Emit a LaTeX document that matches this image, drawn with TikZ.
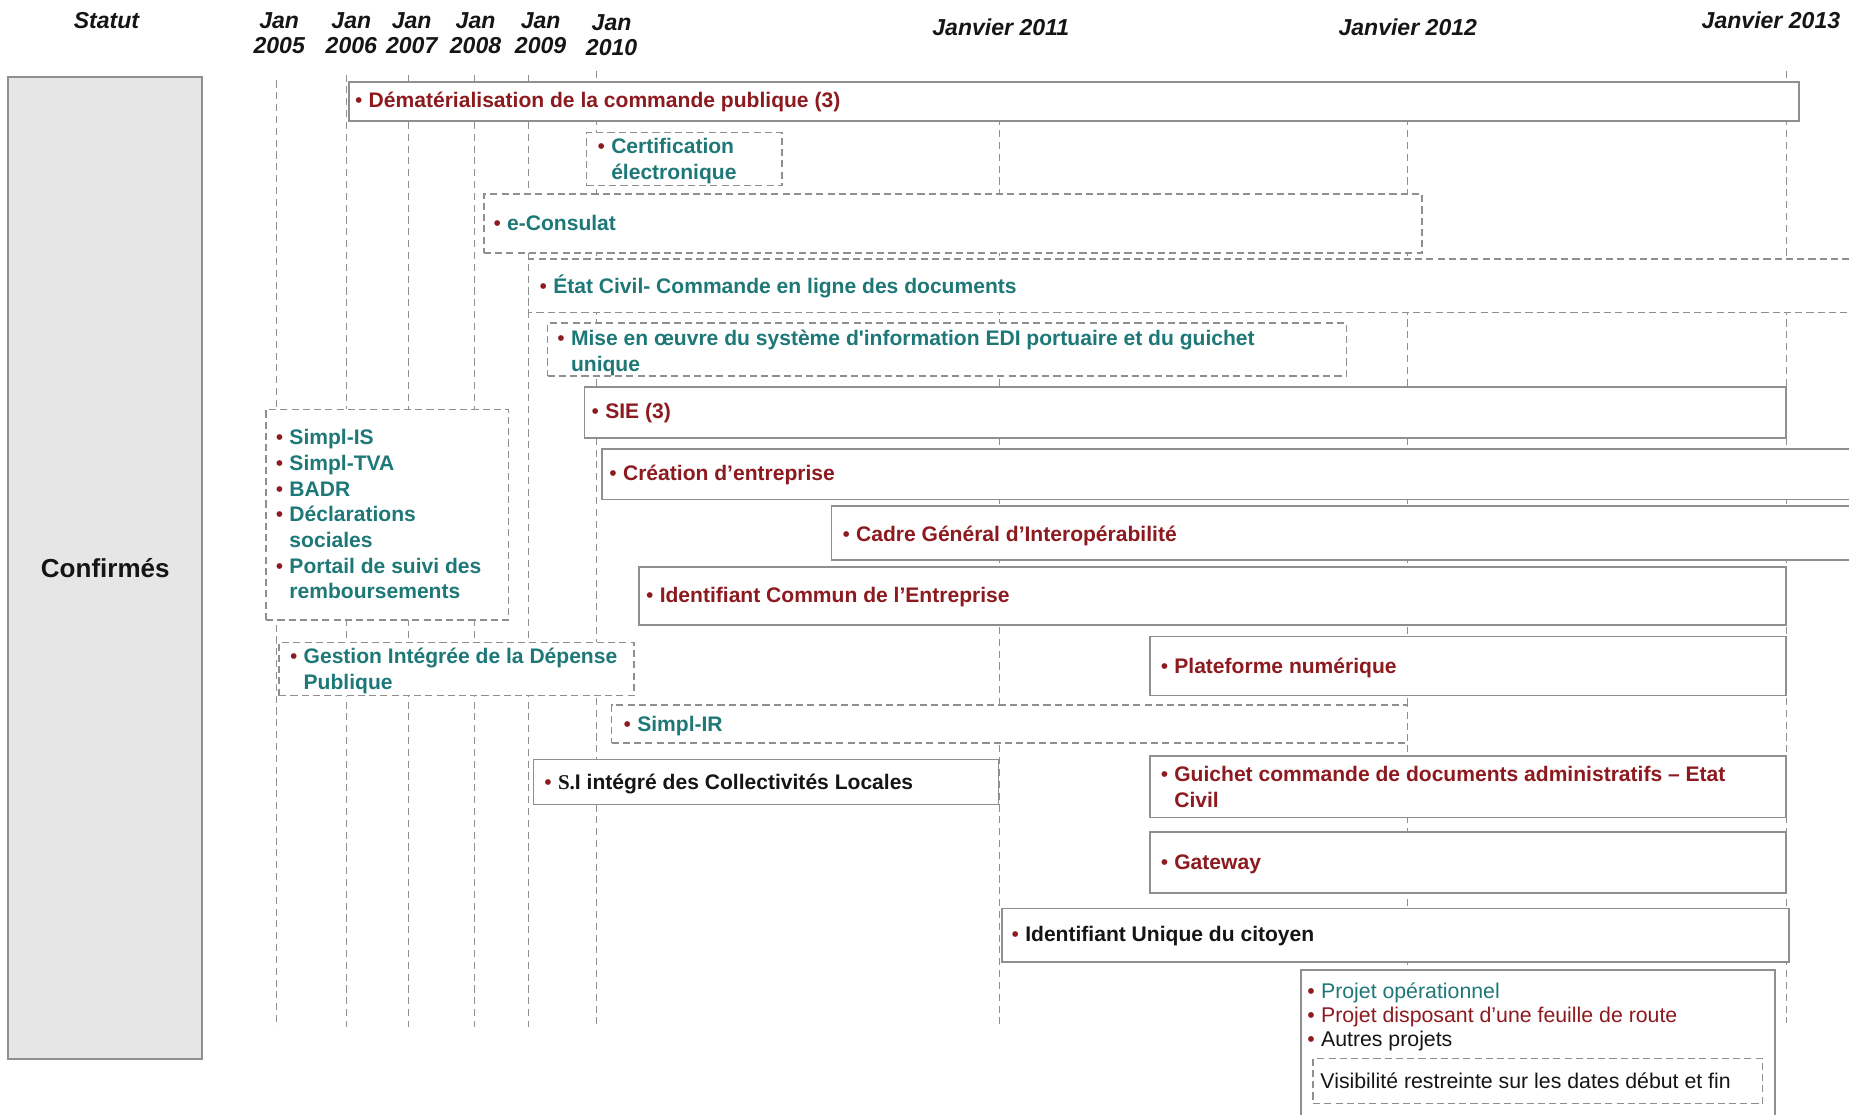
\documentclass[tikz,border=0pt]{standalone}
\usepackage{fontspec}
\setmainfont{Liberation Sans}
\newfontfamily\serifbf{Liberation Serif}
\usetikzlibrary{fit}
\definecolor{tealc}{HTML}{1E7878}
\definecolor{bred}{HTML}{8C1A1F}
\definecolor{ink}{HTML}{151515}
\definecolor{lgray}{HTML}{8F8F8F}
\definecolor{boxfill}{HTML}{E6E6E6}
\newcommand{\bu}{\makebox[11.5pt][l]{\textcolor{bred}{\mdseries •}}}
\newcommand{\ind}{\hspace*{11.5pt}}
\newcommand{\lst}[1]{\begin{tabular}[t]{@{}l@{}}#1\end{tabular}}
\newcommand{\twol}[2]{\begin{tabular}[t]{@{}c@{}}#1\\#2\end{tabular}}
\tikzset{
  gridline/.style={draw=lgray, line width=1pt, dash pattern=on 6pt off 4pt},
  sline/.style={draw=lgray, line width=1.5pt},
  dline/.style={draw=lgray, line width=1.2pt, dash pattern=on 6pt off 3.5pt},
  sbox/.style={sline, fill=white, rectangle, inner sep=0pt},
  dbox/.style={dline, fill=white, rectangle, inner sep=0pt},
  obox/.style={fill=white, rectangle, inner sep=0pt},
  lbl/.style={anchor=base west, inner sep=0pt, font=\bfseries\fontsize{17.8}{21.7}\selectfont},
  leglbl/.style={anchor=base west, inner sep=0pt, font=\fontsize{18}{20.5}\selectfont},
  hdr/.style={anchor=base, inner sep=0pt, text=ink, font=\bfseries\itshape\fontsize{19.5}{21}\selectfont},
}
\begin{document}
\begin{tikzpicture}[x=1pt, y=-1pt]
\useasboundingbox (0,0) rectangle (1563,942);

% header
\node[hdr] (hstat) at (90,24) {Statut};
\node[hdr] (h05) at (236,24) {\twol{Jan}{2005}};
\node[hdr] (h06) at (297,24) {\twol{Jan}{2006}};
\node[hdr] (h07) at (348,24) {\twol{Jan}{2007}};
\node[hdr] (h08) at (402,24) {\twol{Jan}{2008}};
\node[hdr] (h09) at (457,24) {\twol{Jan}{2009}};
\node[hdr] (h10) at (517,26) {\twol{Jan}{2010}};
\node[hdr] (h11) at (846,30) {Janvier 2011};
\node[hdr] (h12) at (1190,30) {Janvier 2012};
\node[hdr] (h13) at (1497,24) {Janvier 2013};

% grid lines
\coordinate (g05a) at (234,68);  \coordinate (g05b) at (234,868);
\coordinate (g06a) at (293,63);  \coordinate (g06b) at (293,868);
\coordinate (g07a) at (345.4,63);  \coordinate (g07b) at (345.4,868);
\coordinate (g08a) at (401,63);  \coordinate (g08b) at (401,868);
\coordinate (g09a) at (447,63);  \coordinate (g09b) at (447,868);
\coordinate (g10a) at (504,60);  \coordinate (g10b) at (504,868);
\coordinate (g11a) at (845,80);  \coordinate (g11b) at (845,868);
\coordinate (g12a) at (1190,80); \coordinate (g12b) at (1190,868);
\coordinate (g13a) at (1510,60); \coordinate (g13b) at (1510,865);
\foreach \g in {05,06,07,08,09,10,11,12,13}
  \draw[gridline] (g\g a) -- (g\g b);

% status column
\node[sline, fill=boxfill, rectangle, inner sep=0pt, fit={(7,65)(171,895)}] (conf) {};
\node[inner sep=0pt, text=ink, font=\bfseries\fontsize{22}{26}\selectfont] (tconf) at (conf.center) {Confirmés};

% boxes
\node[sbox, fit={(295,69)(1521,102)}] (demat) {};
\node[dbox, fit={(496,112)(661,157)}] (cert) {};
\node[dbox, fit={(409,164)(1202,214)}] (econs) {};
\node[obox, fit={(447,219)(1563,264)}] (etat) {};
\draw[dline] (etat.north east) -- (etat.north west) -- (etat.south west) -- (etat.south east);
\node[dbox, fit={(463,273)(1138,318)}] (edi) {};
\node[sbox, fit={(494,327)(1510,370)}] (sie) {};
\node[obox, fit={(509,380)(1563,422)}] (crea) {};
\draw[sline] (crea.north east) -- (crea.north west) -- (crea.south west) -- (crea.south east);
\node[obox, fit={(703,428)(1563,473)}] (cadre) {};
\draw[sline] (cadre.north east) -- (cadre.north west) -- (cadre.south west) -- (cadre.south east);
\node[sbox, fit={(540,479)(1510,528)}] (icent) {};
\node[dbox, fit={(225,346)(430,524)}] (simpl) {};
\node[dbox, fit={(236,543)(536,588)}] (gidp) {};
\node[sbox, fit={(972,538)(1510,588)}] (plat) {};
\node[dbox, fit={(517,596)(1190,628)}] (sir) {};
\node[sbox, fit={(451,642)(844,680)}] (sicl) {};
\node[sbox, fit={(972,639)(1510,691)}] (guich) {};
\node[sbox, fit={(972,703)(1510,755)}] (gate) {};
\node[sbox, fit={(847,768)(1512,813)}] (iuc) {};
\node[obox, fit={(1100,820)(1500,942)}] (leg) {};
\draw[sline] (leg.south west) -- (leg.north west) -- (leg.north east) -- (leg.south east);
\node[dbox, fit={(1110,895)(1490,933)}] (vis) {};

% labels
\node[lbl, text=bred] (tdemat) at (300,91) {\bu Dématérialisation de la commande publique (3)};
\node[lbl, text=tealc] (tcert) at (505,130) {\lst{\bu Certification\\\ind électronique}};
\node[lbl, text=tealc] (tecons) at (417,195) {\bu e-Consulat};
\node[lbl, text=tealc] (tetat) at (456,248) {\bu État Civil- Commande en ligne des documents};
\node[lbl, text=tealc] (tedi) at (471,292) {\lst{\bu Mise en œuvre du système d\textquotesingle information EDI portuaire et du guichet\\\ind unique}};
\node[lbl, text=bred] (tsie) at (500,354) {\bu SIE (3)};
\node[lbl, text=bred] (tcrea) at (515,406) {\bu Création d’entreprise};
\node[lbl, text=bred] (tcadre) at (712,458) {\bu Cadre Général d’Interopérabilité};
\node[lbl, text=bred] (ticent) at (546,509) {\bu Identifiant Commun de l’Entreprise};
\node[lbl, text=tealc] (tsimpl) at (233,376) {\lst{\bu Simpl-IS\\\bu Simpl-TVA\\\bu BADR\\\bu Déclarations\\\ind sociales\\\bu Portail de suivi des\\\ind remboursements}};
\node[lbl, text=tealc] (tgidp) at (245,561) {\lst{\bu Gestion Intégrée de la Dépense\\\ind Publique}};
\node[lbl, text=bred] (tplat) at (981,569) {\bu Plateforme numérique};
\node[lbl, text=tealc] (tsir) at (527,618) {\bu Simpl-IR};
\node[lbl, text=ink] (tsicl) at (460,667) {\bu{\serifbf S.}I intégré des Collectivités Locales};
\node[lbl, text=bred] (tguich) at (981,661) {\lst{\bu Guichet commande de documents administratifs – Etat\\\ind Civil}};
\node[lbl, text=bred] (tgate) at (981,735) {\bu Gateway};
\node[lbl, text=ink] (tiuc) at (855,796) {\bu Identifiant Unique du citoyen};

% legend
\node[leglbl] (tleg) at (1105,844) {\lst{\bu\textcolor{tealc}{Projet opérationnel}\\\bu\textcolor{bred}{Projet disposant d’une feuille de route}\\\bu\textcolor{ink}{Autres projets}}};
\node[leglbl, text=ink] (tvis) at (1116,920) {Visibilité restreinte sur les dates début et fin};
\end{tikzpicture}
\end{document}
